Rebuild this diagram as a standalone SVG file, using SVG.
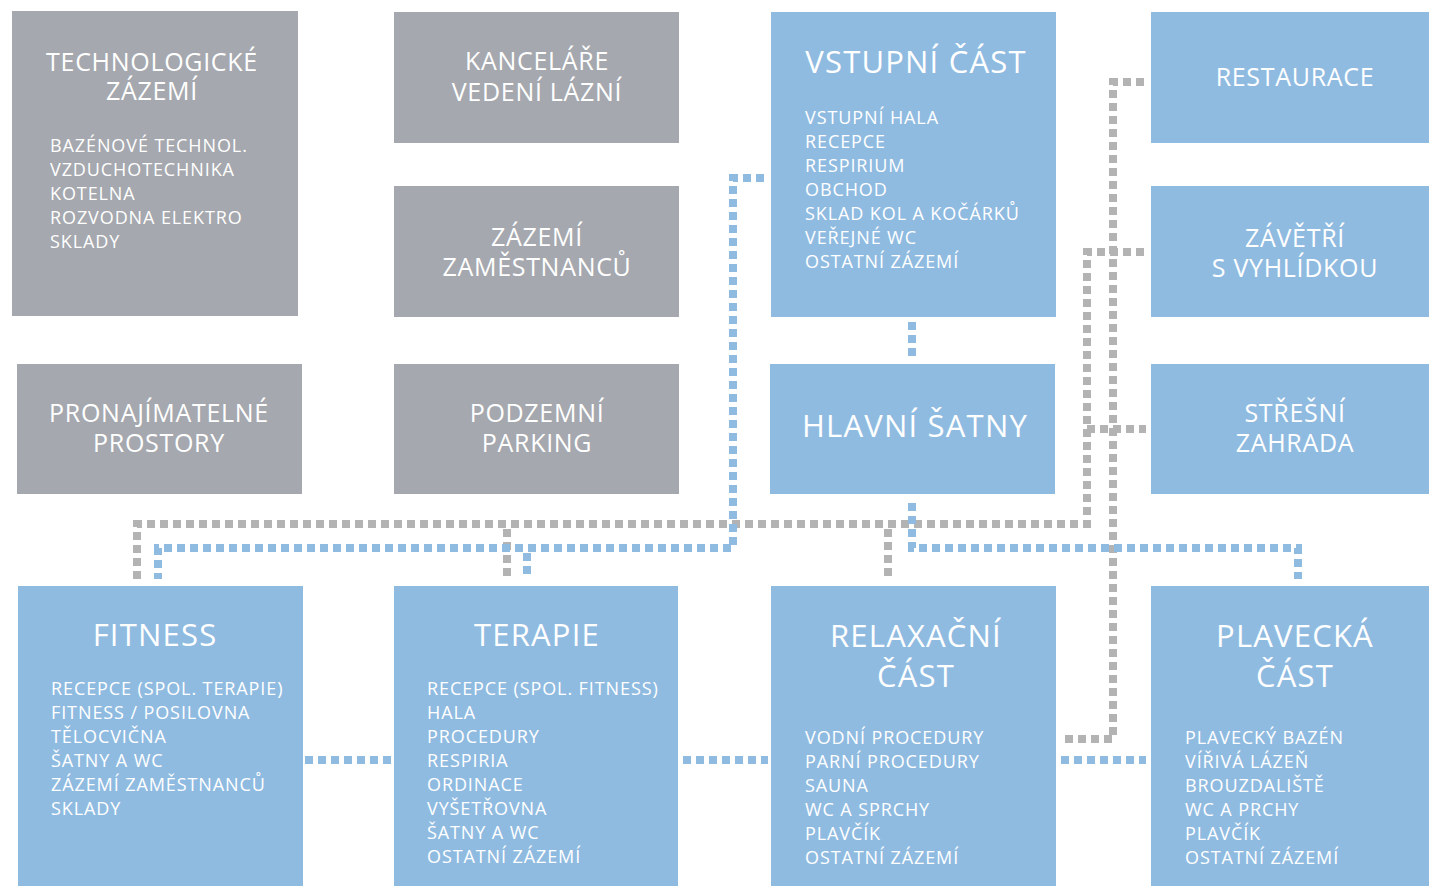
<svg xmlns="http://www.w3.org/2000/svg" width="1429" height="886" viewBox="0 0 1429 886">
<style>
.g{fill:#a5a8ae}
.b{fill:#8fbbe1}
text{font-family:"Open Sans","Noto Sans","Liberation Sans",sans-serif;fill:#ffffff}
.t{font-size:25px;text-anchor:middle;letter-spacing:0.7px}
.T{font-size:31px;text-anchor:middle;letter-spacing:1.2px}
.l{font-size:18px;letter-spacing:0.9px}
.dg{fill:none;stroke:#b3b3b3;stroke-width:8;stroke-dasharray:8 5}
.db{fill:none;stroke:#8fbbe1;stroke-width:8;stroke-dasharray:8 5}
</style>
<rect width="1429" height="886" fill="#ffffff"/>
<g id="technologicke">
<rect class="g" x="12" y="11" width="286" height="305"/>
<text class="t" x="152" y="71">TECHNOLOGICKÉ</text>
<text class="t" x="152" y="100">ZÁZEMÍ</text>
<text class="l" x="50" y="152">BAZÉNOVÉ TECHNOL.</text>
<text class="l" x="50" y="176">VZDUCHOTECHNIKA</text>
<text class="l" x="50" y="200">KOTELNA</text>
<text class="l" x="50" y="224">ROZVODNA ELEKTRO</text>
<text class="l" x="50" y="248">SKLADY</text>
</g>
<g id="kancelare">
<rect class="g" x="394" y="12" width="285" height="131"/>
<text class="t" x="537" y="70">KANCELÁŘE</text>
<text class="t" x="537" y="101">VEDENÍ LÁZNÍ</text>
</g>
<g id="zazemi-zamestnancu">
<rect class="g" x="394" y="186" width="285" height="131"/>
<text class="t" x="537" y="246">ZÁZEMÍ</text>
<text class="t" x="537" y="276">ZAMĚSTNANCŮ</text>
</g>
<g id="pronajimatelne">
<rect class="g" x="17" y="364" width="285" height="130"/>
<text class="t" x="159" y="422">PRONAJÍMATELNÉ</text>
<text class="t" x="159" y="452">PROSTORY</text>
</g>
<g id="parking">
<rect class="g" x="394" y="364" width="285" height="130"/>
<text class="t" x="537" y="422">PODZEMNÍ</text>
<text class="t" x="537" y="452">PARKING</text>
</g>
<g id="vstupni">
<rect class="b" x="771" y="12" width="285" height="305"/>
<text class="T" x="916" y="73">VSTUPNÍ ČÁST</text>
<text class="l" x="805" y="124">VSTUPNÍ HALA</text>
<text class="l" x="805" y="148">RECEPCE</text>
<text class="l" x="805" y="172">RESPIRIUM</text>
<text class="l" x="805" y="196">OBCHOD</text>
<text class="l" x="805" y="220">SKLAD KOL A KOČÁRKŮ</text>
<text class="l" x="805" y="244">VEŘEJNÉ WC</text>
<text class="l" x="805" y="268">OSTATNÍ ZÁZEMÍ</text>
</g>
<g id="satny">
<rect class="b" x="770" y="364" width="285" height="130"/>
<text class="T" x="915" y="437">HLAVNÍ ŠATNY</text>
</g>
<g id="restaurace">
<rect class="b" x="1151" y="12" width="278" height="131"/>
<text class="t" x="1295" y="86">RESTAURACE</text>
</g>
<g id="zavetri">
<rect class="b" x="1151" y="186" width="278" height="131"/>
<text class="t" x="1295" y="247">ZÁVĚTŘÍ</text>
<text class="t" x="1295" y="277">S VYHLÍDKOU</text>
</g>
<g id="stresni">
<rect class="b" x="1151" y="364" width="278" height="130"/>
<text class="t" x="1295" y="422">STŘEŠNÍ</text>
<text class="t" x="1295" y="452">ZAHRADA</text>
</g>
<g id="fitness">
<rect class="b" x="18" y="586" width="285" height="300"/>
<text class="T" x="155" y="646">FITNESS</text>
<text class="l" x="51" y="695">RECEPCE (SPOL. TERAPIE)</text>
<text class="l" x="51" y="719">FITNESS / POSILOVNA</text>
<text class="l" x="51" y="743">TĚLOCVIČNA</text>
<text class="l" x="51" y="767">ŠATNY A WC</text>
<text class="l" x="51" y="791">ZÁZEMÍ ZAMĚSTNANCŮ</text>
<text class="l" x="51" y="815">SKLADY</text>
</g>
<g id="terapie">
<rect class="b" x="394" y="586" width="284" height="300"/>
<text class="T" x="537" y="646">TERAPIE</text>
<text class="l" x="427" y="695">RECEPCE (SPOL. FITNESS)</text>
<text class="l" x="427" y="719">HALA</text>
<text class="l" x="427" y="743">PROCEDURY</text>
<text class="l" x="427" y="767">RESPIRIA</text>
<text class="l" x="427" y="791">ORDINACE</text>
<text class="l" x="427" y="815">VYŠETŘOVNA</text>
<text class="l" x="427" y="839">ŠATNY A WC</text>
<text class="l" x="427" y="863">OSTATNÍ ZÁZEMÍ</text>
</g>
<g id="relaxacni">
<rect class="b" x="771" y="586" width="285" height="300"/>
<text class="T" x="916" y="647">RELAXAČNÍ</text>
<text class="T" x="916" y="687">ČÁST</text>
<text class="l" x="805" y="744">VODNÍ PROCEDURY</text>
<text class="l" x="805" y="768">PARNÍ PROCEDURY</text>
<text class="l" x="805" y="792">SAUNA</text>
<text class="l" x="805" y="816">WC A SPRCHY</text>
<text class="l" x="805" y="840">PLAVČÍK</text>
<text class="l" x="805" y="864">OSTATNÍ ZÁZEMÍ</text>
</g>
<g id="plavecka">
<rect class="b" x="1151" y="586" width="278" height="300"/>
<text class="T" x="1295" y="647">PLAVECKÁ</text>
<text class="T" x="1295" y="687">ČÁST</text>
<text class="l" x="1185" y="744">PLAVECKÝ BAZÉN</text>
<text class="l" x="1185" y="768">VÍŘIVÁ LÁZEŇ</text>
<text class="l" x="1185" y="792">BROUZDALIŠTĚ</text>
<text class="l" x="1185" y="816">WC A PRCHY</text>
<text class="l" x="1185" y="840">PLAVČÍK</text>
<text class="l" x="1185" y="864">OSTATNÍ ZÁZEMÍ</text>
</g>
<g id="connectors">
<path class="dg" d="M137 579 V524 H1087 V252 H1146"/>
<path class="dg" d="M1087 429 H1146"/>
<path class="dg" d="M1144 82 H1113 V739 H1061"/>
<path class="dg" d="M507 529 V579"/>
<path class="dg" d="M888 529 V579"/>
<path class="db" d="M764 178 H733 V548 H158 V579"/>
<path class="db" d="M527 553 V579"/>
<path class="db" d="M912 322 V359"/>
<path class="db" d="M912 503 V548 H1298 V579"/>
<path class="db" d="M305 760 H391"/>
<path class="db" d="M683 760 H768"/>
<path class="db" d="M1061 760 H1146"/>
</g>
</svg>
